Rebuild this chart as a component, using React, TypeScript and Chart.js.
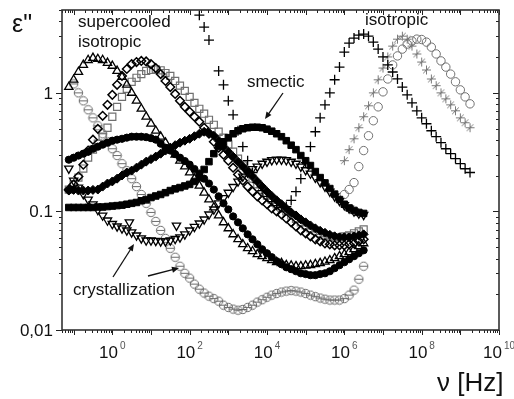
import { useEffect, useRef } from 'react';
import { Chart, registerables } from 'chart.js';

Chart.register(...registerables);

// ---------- DATA ----------
// Frequencies (Hz) of the low-temperature / mesophase measurements
const freqLow = [
  0.075, 0.1, 0.133, 0.178, 0.237, 0.316, 0.422, 0.562, 0.75,
  1, 1.33, 1.78, 2.37, 3.16, 4.22, 5.62, 7.5,
  10, 13.3, 17.8, 23.7, 31.6, 42.2, 56.2, 75,
  100, 133, 178, 237, 316, 422, 562, 750,
  1e3, 1.33e3, 1.78e3, 2.37e3, 3.16e3, 4.22e3, 5.62e3, 7.5e3,
  1e4, 1.33e4, 1.78e4, 2.37e4, 3.16e4, 4.22e4, 5.62e4, 7.5e4,
  1e5, 1.33e5, 1.78e5, 2.37e5, 3.16e5, 4.22e5, 5.62e5, 7.5e5,
  1e6, 1.33e6, 1.78e6, 2.37e6, 3.16e6,
];

// supercooled isotropic (open triangles up)
const epsTriUp = [
  1.12, 1.29, 1.5, 1.72, 1.89, 1.97, 1.93, 1.89, 1.79, 1.69, 1.53, 1.36, 1.17, 1.0, 0.857, 0.734,
  0.629, 0.549, 0.479, 0.427, 0.38, 0.338, 0.301, 0.268, 0.239, 0.213, 0.189, 0.165, 0.144, 0.126,
  0.108, 0.0925, 0.0809, 0.072, 0.0641, 0.0582, 0.0528, 0.0489, 0.0461, 0.0435, 0.0419, 0.0403,
  0.0387, 0.0373, 0.0366, 0.0352, 0.0349, 0.0345, 0.0345, 0.0349, 0.0352, 0.0359, 0.0366, 0.0376,
  0.0387, 0.0403, 0.0419, 0.0435, 0.0452, 0.048, 0.0508, 0.0538,
];
// supercooled isotropic (open diamonds)
const epsDiamondOpen = [
  0.153, 0.169, 0.197, 0.248, 0.326, 0.403, 0.498, 0.641, 0.793, 0.962, 1.17, 1.39, 1.59, 1.75,
  1.82, 1.86, 1.84, 1.75, 1.62, 1.44, 1.26, 1.12, 0.98, 0.857, 0.762, 0.692, 0.629, 0.571, 0.508,
  0.452, 0.387, 0.345, 0.301, 0.268, 0.234, 0.205, 0.182, 0.162, 0.147, 0.134, 0.124, 0.115, 0.106,
  0.1, 0.0944, 0.0873, 0.0809, 0.0748, 0.0692, 0.0654, 0.0617, 0.0582, 0.056, 0.0538, 0.0528,
  0.0518, 0.0518, 0.0518, 0.0528, 0.0538, 0.056, 0.0582,
];
// supercooled isotropic (open squares, grey)
const epsSquareOpen = [
  0.153, 0.169, 0.193, 0.23, 0.284, 0.332, 0.373, 0.427, 0.508, 0.629, 0.762, 0.925, 1.08, 1.24,
  1.34, 1.44, 1.53, 1.56, 1.58, 1.55, 1.47, 1.39, 1.26, 1.15, 1.04, 0.925, 0.824, 0.734, 0.667,
  0.593, 0.538, 0.47, 0.419, 0.366, 0.319, 0.279, 0.244, 0.213, 0.189, 0.169, 0.152, 0.136, 0.125,
  0.115, 0.107, 0.1, 0.0925, 0.0865, 0.0809, 0.0762, 0.072, 0.0686, 0.0654, 0.0628, 0.0617, 0.0605,
  0.0605, 0.0617, 0.0628, 0.0654, 0.0679, 0.0706,
];
// smectic (filled circles)
const epsDotFilled = [
  0.273, 0.284, 0.296, 0.307, 0.319, 0.338, 0.352, 0.366, 0.38, 0.395, 0.403, 0.41, 0.419, 0.427,
  0.427, 0.427, 0.423, 0.415, 0.403, 0.373, 0.345, 0.326, 0.304, 0.284, 0.266, 0.248, 0.228, 0.209,
  0.189, 0.172, 0.153, 0.134, 0.117, 0.104, 0.0908, 0.0809, 0.072, 0.0641, 0.0582, 0.0528, 0.048,
  0.0444, 0.0411, 0.038, 0.0359, 0.0338, 0.0326, 0.0313, 0.0301, 0.0296, 0.029, 0.029, 0.0296,
  0.0301, 0.0313, 0.0332, 0.0352, 0.0373, 0.0395, 0.0419, 0.0444, 0.047,
];
// smectic (filled diamonds)
const epsDiamondFilled = [
  0.15, 0.152, 0.15, 0.15, 0.15, 0.152, 0.153, 0.162, 0.172, 0.179, 0.189, 0.201, 0.213, 0.221,
  0.234, 0.248, 0.263, 0.276, 0.29, 0.307, 0.326, 0.345, 0.362, 0.38, 0.395, 0.41, 0.431, 0.452,
  0.47, 0.461, 0.435, 0.395, 0.352, 0.319, 0.29, 0.263, 0.239, 0.217, 0.197, 0.179, 0.162, 0.147,
  0.135, 0.124, 0.115, 0.106, 0.0981, 0.0925, 0.0857, 0.0809, 0.0762, 0.072, 0.0686, 0.066, 0.0635,
  0.0617, 0.0605, 0.0605, 0.0605, 0.0617, 0.0628, 0.0641,
];
// smectic (filled squares)
const epsSquareFilled = [
  0.108, 0.108, 0.108, 0.108, 0.108, 0.108, 0.109, 0.109, 0.11, 0.111, 0.112, 0.113, 0.115, 0.117,
  0.119, 0.123, 0.126, 0.131, 0.135, 0.139, 0.144, 0.15, 0.155, 0.159, 0.164, 0.169, 0.179, 0.193,
  0.226, 0.263, 0.307, 0.352, 0.387, 0.419, 0.452, 0.479, 0.498, 0.508, 0.513, 0.513, 0.508, 0.494,
  0.475, 0.452, 0.427, 0.395, 0.362, 0.332, 0.296, 0.268, 0.244, 0.217, 0.193, 0.174, 0.156, 0.14,
  0.126, 0.115, 0.107, 0.102, 0.0981, 0.0962,
];
// crystallization (open triangles down)
const epsTriDown = [
  0.23, 0.182, 0.159, 0.14, 0.126, 0.115, 0.103, 0.0925, 0.084, 0.0785, 0.0748, 0.072, 0.0692,
  0.0667, 0.0628, 0.0593, 0.057, 0.057, 0.0565, 0.056, 0.056, 0.057, 0.0587, 0.0605, 0.0641, 0.0692,
  0.0741, 0.0793, 0.0857, 0.0944, 0.104, 0.117, 0.13, 0.144, 0.161, 0.179, 0.197, 0.213, 0.228,
  0.239, 0.253, 0.263, 0.271, 0.274, 0.274, 0.271, 0.263, 0.253, 0.239, 0.223, 0.209, 0.193, 0.177,
  0.162, 0.147, 0.134, 0.123, 0.113, 0.106, 0.1, 0.0962, 0.0935,
];
const freqTriDownExtra = [2.76, 45.6];
const epsTriDownExtra = [0.081, 0.076];
// crystallization (grey barred circles)
const epsCircleBar = [
  null, 1.19, 1.0, 0.857, 0.72, 0.616, 0.528, 0.452, 0.387, 0.338, 0.296, 0.253, 0.221, 0.189,
  0.162, 0.139, 0.117, 0.0981, 0.0824, 0.0692, 0.0593, 0.0489, 0.0411, 0.0345, 0.0301, 0.0274,
  0.0244, 0.0221, 0.0205, 0.0193, 0.0184, 0.0175, 0.0162, 0.0155, 0.015, 0.0147, 0.0149, 0.0155,
  0.0162, 0.0172, 0.018, 0.0189, 0.0197, 0.0203, 0.0209, 0.0213, 0.0215, 0.0213, 0.0209, 0.0203,
  0.0197, 0.0191, 0.0186, 0.0182, 0.0179, 0.0179, 0.0179, 0.0184, 0.0197, 0.0217, 0.0268, 0.0345,
];

// isotropic (crosses)
const freqPlus = [
  178, 237, 316, 562, 750, 1e3, 1.33e3, 1.78e3, 2.37e3, 3.16e3, 4.22e3, 5.62e3, 7.5e3,
  1e4, 1.33e4, 1.78e4, 2.37e4, 3.16e4, 4.22e4, 5.62e4, 7.5e4,
  1e5, 1.33e5, 1.78e5, 2.37e5, 3.16e5, 4.22e5, 5.62e5, 7.5e5,
  1e6, 1.33e6, 1.78e6, 2.37e6, 3.16e6, 4.22e6, 5.62e6, 7.5e6,
  1e7, 1.33e7, 1.78e7, 2.37e7, 3.16e7, 4.22e7, 5.62e7, 7.5e7,
  1e8, 1.33e8, 1.78e8, 2.37e8, 3.16e8, 4.22e8, 5.62e8, 7.5e8,
  1e9, 1.33e9, 1.78e9,
];
const epsPlus = [
  4.52, 3.59, 2.79, 1.53, 1.17, 0.857, 0.653, 0.479, 0.352, 0.268, 0.213, 0.175, 0.15,
  0.134, 0.121, 0.112, 0.108, 0.11, 0.124, 0.147, 0.189,
  0.258, 0.352, 0.47, 0.616, 0.793, 1.0, 1.29, 1.65,
  2.21, 2.63, 2.9, 3.07, 3.13, 3.01, 2.68, 2.34,
  2.01, 1.72, 1.5, 1.31, 1.12, 0.962, 0.824, 0.706,
  0.616, 0.549, 0.479, 0.427, 0.38, 0.338, 0.307, 0.279,
  0.253, 0.229, 0.213,
];
// isotropic, higher temperatures
const freqHigh = [
  1e6, 1.33e6, 1.78e6, 2.37e6, 3.16e6, 4.22e6, 5.62e6, 7.5e6,
  1e7, 1.33e7, 1.78e7, 2.37e7, 3.16e7, 4.22e7, 5.62e7, 7.5e7,
  1e8, 1.33e8, 1.78e8, 2.37e8, 3.16e8, 4.22e8, 5.62e8, 7.5e8,
  1e9, 1.33e9, 1.78e9,
];
const epsStar = [
  0.268, 0.332, 0.41, 0.508, 0.629, 0.778, 1.0, 1.29,
  1.62, 2.01, 2.48, 2.84, 3.01, 2.84, 2.48, 2.13,
  1.82, 1.56, 1.31, 1.15, 1.0, 0.891, 0.793, 0.706,
  0.616, 0.56, 0.508,
];
const epsCircleOpen = [
  0.139, 0.153, 0.175, 0.239, 0.326, 0.435, 0.582, 0.762,
  1.02, 1.31, 1.72, 2.05, 2.34, 2.58, 2.74, 2.84,
  2.82, 2.68, 2.43, 2.13, 1.86, 1.65, 1.44, 1.24,
  1.06, 0.925, 0.808,
];

// axes
const xMin = 0.05;
const xMax = 1e10;
const yMin = 0.01;
const yMax = 5;
const xTickValues = [1, 1e2, 1e4, 1e6, 1e8, 1e10];
const xTickExponents = ['0', '2', '4', '6', '8', '10'];
const yTickValues = [0.01, 0.1, 1];
const yTickLabels = ['0,01', '0.1', '1'];
const yAxisTitle = 'ε"';
const xAxisTitle = 'ν [Hz]';

// ---------- HELPERS ----------
const FONT = '"Liberation Sans", Arial, Helvetica, sans-serif';
const CLEAR = 'rgba(0,0,0,0)';

function pts(xs: number[], ys: (number | null)[]) {
  const out: { x: number; y: number }[] = [];
  ys.forEach((y, i) => {
    if (y != null && xs[i] != null) out.push({ x: xs[i], y });
  });
  return out;
}

function arrow(ctx: CanvasRenderingContext2D, x1: number, y1: number, x2: number, y2: number) {
  const a = Math.atan2(y2 - y1, x2 - x1);
  const hl = 7;
  const hw = 3;
  ctx.beginPath();
  ctx.moveTo(x1, y1);
  ctx.lineTo(x2 - Math.cos(a) * hl * 0.8, y2 - Math.sin(a) * hl * 0.8);
  ctx.stroke();
  ctx.beginPath();
  ctx.moveTo(x2, y2);
  ctx.lineTo(x2 - Math.cos(a) * hl - Math.sin(a) * hw, y2 - Math.sin(a) * hl + Math.cos(a) * hw);
  ctx.lineTo(x2 - Math.cos(a) * hl + Math.sin(a) * hw, y2 - Math.sin(a) * hl - Math.cos(a) * hw);
  ctx.closePath();
  ctx.fill();
}

const decorPlugin = {
  id: 'decor',
  afterDraw(chart: any) {
    const ctx: CanvasRenderingContext2D = chart.ctx;
    const xs = chart.scales.x;
    const ys = chart.scales.y;
    const { left, right, top, bottom } = chart.chartArea;
    ctx.save();
    // ticks
    ctx.strokeStyle = '#222';
    ctx.lineWidth = 1;
    const line = (a: number, b: number, c: number, d: number) => {
      ctx.beginPath();
      ctx.moveTo(a, b);
      ctx.lineTo(c, d);
      ctx.stroke();
    };
    for (let d = -2; d <= 10; d++) {
      for (let m = 1; m <= 9; m++) {
        const v = m * Math.pow(10, d);
        if (v >= xMin * 0.999 && v <= xMax * 1.001) {
          const px = Math.round(xs.getPixelForValue(v)) + 0.5;
          const len = m === 1 ? 5 : 3;
          line(px, bottom, px, bottom + len);
          line(px, top, px, top + len);
        }
        if (v >= yMin * 0.999 && v <= yMax * 1.001) {
          const py = Math.round(ys.getPixelForValue(v)) + 0.5;
          const len = m === 1 ? 6 : 3;
          line(left, py, left - len, py);
          line(right, py, right - len, py);
        }
      }
    }
    // frame
    ctx.strokeStyle = '#333';
    ctx.lineWidth = 1.6;
    ctx.strokeRect(left, top, right - left, bottom - top);

    // tick labels
    ctx.fillStyle = '#111';
    ctx.textBaseline = 'alphabetic';
    xTickValues.forEach((v, i) => {
      const px = xs.getPixelForValue(v);
      ctx.font = `17px ${FONT}`;
      const w1 = ctx.measureText('10').width;
      ctx.font = `10px ${FONT}`;
      const w2 = ctx.measureText(xTickExponents[i]).width;
      const start = px - (w1 + 2 + w2) / 2;
      ctx.font = `17px ${FONT}`;
      ctx.fillStyle = '#111';
      ctx.textAlign = 'left';
      ctx.fillText('10', start, 358);
      ctx.font = `10px ${FONT}`;
      ctx.fillStyle = '#555';
      ctx.fillText(xTickExponents[i], start + w1 + 2, 349);
    });
    ctx.fillStyle = '#111';
    ctx.font = `17px ${FONT}`;
    ctx.textAlign = 'right';
    ctx.textBaseline = 'middle';
    yTickValues.forEach((v, i) => {
      ctx.fillText(yTickLabels[i], left - 9, ys.getPixelForValue(v) + 1);
    });

    // axis titles
    ctx.textAlign = 'left';
    ctx.textBaseline = 'alphabetic';
    ctx.font = `25px ${FONT}`;
    ctx.fillText(yAxisTitle, 12, 32);
    ctx.font = `26px ${FONT}`;
    ctx.fillText(xAxisTitle, 437, 391);

    // annotations
    ctx.font = `17px ${FONT}`;
    ctx.fillStyle = '#111';
    ctx.fillText('supercooled', 78, 27);
    ctx.fillText('isotropic', 78, 47);
    ctx.fillText('smectic', 247, 87);
    ctx.fillText('isotropic', 365, 25);
    ctx.fillText('crystallization', 73, 295);
    ctx.strokeStyle = '#111';
    ctx.fillStyle = '#111';
    ctx.lineWidth = 1.3;
    arrow(ctx, 283, 93, 265, 119);
    arrow(ctx, 113, 277, 134, 244);
    arrow(ctx, 148, 276, 179, 268);
    ctx.restore();
  },
};

export default function App() {
  const ref = useRef<HTMLCanvasElement>(null);
  useEffect(() => {
    document.body.style.margin = '0';
    const canvas = ref.current;
    if (!canvas) return;

    const barCircle = document.createElement('canvas');
    barCircle.width = 11;
    barCircle.height = 11;
    const bc = barCircle.getContext('2d')!;
    bc.strokeStyle = '#6a6a6a';
    bc.lineWidth = 1;
    bc.beginPath();
    bc.arc(5.5, 5.5, 4.2, 0, Math.PI * 2);
    bc.stroke();
    bc.beginPath();
    bc.moveTo(1.3, 5.5);
    bc.lineTo(9.7, 5.5);
    bc.stroke();

    // grey "+/" marker of the hot isotropic series
    const plusSlash = document.createElement('canvas');
    plusSlash.width = 11;
    plusSlash.height = 11;
    const ps = plusSlash.getContext('2d')!;
    ps.strokeStyle = '#7a7a7a';
    ps.lineWidth = 1;
    ps.beginPath();
    ps.moveTo(5.5, 1);
    ps.lineTo(5.5, 10);
    ps.moveTo(1, 5.5);
    ps.lineTo(10, 5.5);
    ps.moveTo(2.2, 8.8);
    ps.lineTo(8.8, 2.2);
    ps.stroke();

    const base = { showLine: false, pointHoverRadius: 0 };
    const datasets: any[] = [
      {
        ...base, label: 'isotropic +', data: pts(freqPlus, epsPlus),
        pointStyle: 'cross', pointRadius: 5, pointBorderColor: '#000', pointBorderWidth: 1.3,
        pointBackgroundColor: CLEAR,
      },
      {
        ...base, label: 'smectic squares', data: pts(freqLow, epsSquareFilled),
        pointStyle: 'rect', pointRadius: 4.6, pointBorderColor: '#000', pointBorderWidth: 1,
        pointBackgroundColor: '#000',
      },
      {
        ...base, label: 'smectic dots', data: pts(freqLow, epsDotFilled),
        pointStyle: 'circle', pointRadius: 3.6, pointBorderColor: '#000', pointBorderWidth: 1,
        pointBackgroundColor: '#000',
      },
      {
        ...base, label: 'smectic diamonds', data: pts(freqLow, epsDiamondFilled),
        pointStyle: 'rectRot', pointRadius: 4.5, pointBorderColor: '#000', pointBorderWidth: 1,
        pointBackgroundColor: '#000',
      },
      {
        ...base, label: 'supercooled diamonds', data: pts(freqLow, epsDiamondOpen),
        pointStyle: 'rectRot', pointRadius: 4.3, pointBorderColor: '#000', pointBorderWidth: 1.5,
        pointBackgroundColor: CLEAR,
      },
      {
        ...base, label: 'supercooled triangles', data: pts(freqLow, epsTriUp),
        pointStyle: 'triangle', pointRadius: 4.8, pointBorderColor: '#000', pointBorderWidth: 1.3,
        pointBackgroundColor: CLEAR,
      },
      {
        ...base, label: 'crystallization triangles',
        data: [...pts(freqLow, epsTriDown), ...pts(freqTriDownExtra, epsTriDownExtra)],
        pointStyle: 'triangle', pointRotation: 180, pointRadius: 4.8, pointBorderColor: '#000',
        pointBorderWidth: 1.3, pointBackgroundColor: CLEAR,
      },
      {
        ...base, label: 'supercooled squares', data: pts(freqLow, epsSquareOpen),
        pointStyle: 'rect', pointRadius: 5, pointBorderColor: '#707070', pointBorderWidth: 1.2,
        pointBackgroundColor: CLEAR,
      },
      {
        ...base, label: 'crystallization circles', data: pts(freqLow, epsCircleBar),
        pointStyle: barCircle, pointRadius: 4.5,
      },
      {
        ...base, label: 'isotropic circles', data: pts(freqHigh, epsCircleOpen),
        pointStyle: 'circle', pointRadius: 4.2, pointBorderColor: '#707070', pointBorderWidth: 1,
        pointBackgroundColor: CLEAR,
      },
      {
        ...base, label: 'isotropic stars', data: pts(freqHigh, epsStar),
        pointStyle: plusSlash, pointRadius: 4.5,
      },
    ];

    const chart = new Chart(canvas, {
      type: 'scatter',
      data: { datasets },
      options: {
        animation: false,
        responsive: false,
        devicePixelRatio: 1,
        events: [],
        layout: { padding: { left: 62, right: 15, top: 10, bottom: 69 } },
        plugins: { legend: { display: false }, tooltip: { enabled: false } },
        scales: {
          x: { type: 'logarithmic', min: xMin, max: xMax, display: false },
          y: { type: 'logarithmic', min: yMin, max: yMax, display: false },
        },
      },
      plugins: [decorPlugin],
    } as any);
    return () => chart.destroy();
  }, []);

  return <canvas ref={ref} width={514} height={399} style={{ display: 'block' }} />;
}
